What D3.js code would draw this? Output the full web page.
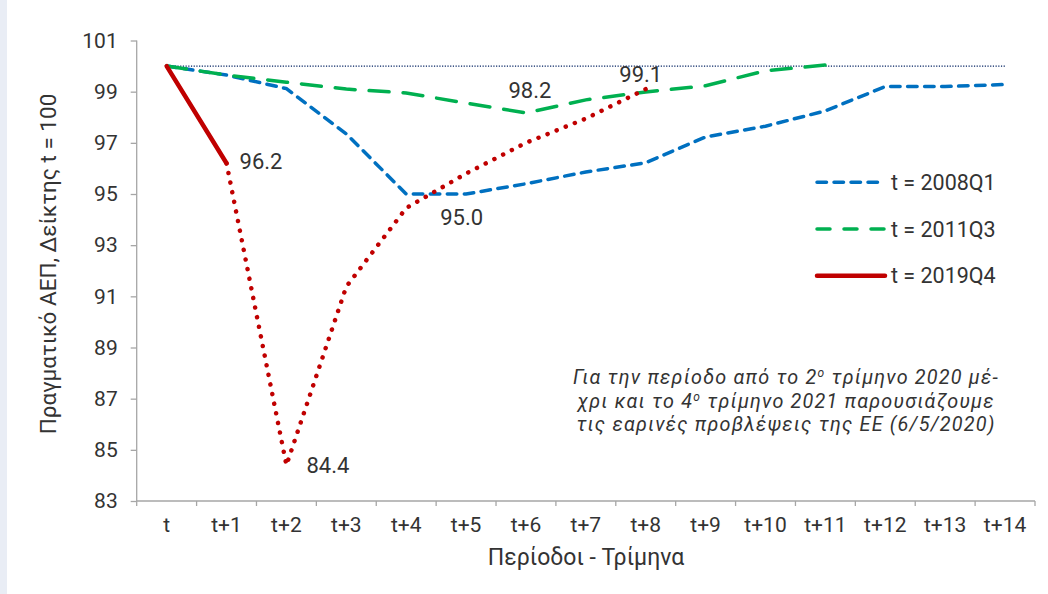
<!DOCTYPE html>
<html><head><meta charset="utf-8">
<script src="https://cdn.jsdelivr.net/npm/d3@7"></script>
<style>
body{margin:0;background:#fff}
svg{display:block}
text{font-family:Roboto,"Noto Sans",sans-serif;fill:#333}
</style>
</head><body>
<svg id="chart" width="1048" height="594"></svg>
<script>
// ---- data ----
const categories = ["t","t+1","t+2","t+3","t+4","t+5","t+6","t+7","t+8","t+9","t+10","t+11","t+12","t+13","t+14"];
const yTicks = [83,85,87,89,91,93,95,97,99,101];
const series2008Q1 = [100, 99.65, 99.12, 97.35, 95.0, 95.0, 95.4, 95.86, 96.22, 97.23, 97.65, 98.25, 99.2, 99.2, 99.28];
const series2011Q3 = [100, 99.65, 99.37, 99.1, 98.95, 98.55, 98.17, 98.68, 98.99, 99.23, 99.82, 100.04];
const series2019Q4Actual = [100, 96.2];
const series2019Q4Forecast = [null, 96.2, 84.4, 91.38, 94.45, 95.8, 97.0, 97.95, 99.1];
const baseline100 = categories.map(() => 100);
const legendNames = ["t = 2008Q1", "t = 2011Q3", "t = 2019Q4"];
const dataLabels = [
  {cat:"t+1", value:96.2, text:"96.2"},
  {cat:"t+2", value:84.4, text:"84.4"},
  {cat:"t+4", value:95.0, text:"95.0"},
  {cat:"t+6", value:98.17, text:"98.2"},
  {cat:"t+8", value:99.1, text:"99.1"}
];
const xTitle = "Περίοδοι - Τρίμηνα";
const yTitle = "Πραγματικό ΑΕΠ, Δείκτης t = 100";
const noteLines = [
  ["Για την περίοδο από το 2", "ο", " τρίμηνο 2020 μέ-"],
  ["χρι και το 4", "ο", " τρίμηνο 2021 παρουσιάζουμε"],
  ["τις εαρινές προβλέψεις της ΕΕ (6/5/2020)", "", ""]
];

// ---- chart ----
(function(){
const svg = d3.select("#chart");
const W = 1048, H = 594;
const pL = 136.7, pR = 1035, pT = 40.5, pB = 501;
const txt = "#333";

svg.append("rect").attr("x",0).attr("y",0).attr("width",7).attr("height",H).attr("fill","#e9edf5");

const x = d3.scaleBand().domain(categories).range([pL, pR]).padding(0);
const xc = c => x(c) + x.bandwidth()/2;
const y = d3.scaleLinear().domain([83,101]).range([pB, pT]);

const axisColor = "#a6a6a6";
const ff = 'Roboto,"Noto Sans",sans-serif';

// y axis
const gy = svg.append("g").attr("transform",`translate(${pL},0)`)
  .call(d3.axisLeft(y).tickValues(yTicks).tickSize(6).tickPadding(13).tickFormat(d3.format("d")));
gy.selectAll("path,line").attr("stroke",axisColor).attr("stroke-width",1.3);
gy.select(".domain").attr("d",`M0,${pT}V${pB}`);
gy.selectAll("text").attr("font-size",21).attr("font-family",ff).attr("fill",txt);

// x axis
const gx = svg.append("g").attr("transform",`translate(0,${pB})`)
  .call(d3.axisBottom(x).tickSize(0).tickPadding(16));
gx.select(".domain").attr("stroke",axisColor).attr("stroke-width",1.3).attr("d",`M${pL},0H${pR}`);
gx.selectAll("text").attr("font-size",21).attr("font-family",ff).attr("fill",txt);
const edges = categories.map(c => x(c)).concat([pR]);
gx.selectAll(".edge").data(edges).enter().append("line")
  .attr("x1",d=>d).attr("x2",d=>d).attr("y1",0).attr("y2",5)
  .attr("stroke",axisColor).attr("stroke-width",1.3);

// titles
svg.append("text").attr("x", 586).attr("y", 565).attr("text-anchor","middle")
  .attr("font-size",23).text(xTitle);
svg.append("text").attr("transform",`translate(56,264) rotate(-90)`).attr("text-anchor","middle")
  .attr("font-size",22.5).text(yTitle);

// lines
const line = d3.line().defined(d => d.v != null).x(d => xc(d.c)).y(d => y(d.v));
const toPts = arr => arr.map((v,i) => ({c:categories[i], v:v}));

svg.append("path").attr("d", line(toPts(baseline100)))
  .attr("fill","none").attr("stroke","#002060").attr("stroke-width",1.1).attr("stroke-dasharray","1.2,1.5");

svg.append("path").attr("d", line(toPts(series2008Q1)))
  .attr("fill","none").attr("stroke","#0070c0").attr("stroke-width",3.5)
  .attr("stroke-linecap","round").attr("stroke-dasharray","9.5,7.5");

svg.append("path").attr("d", line(toPts(series2011Q3)))
  .attr("fill","none").attr("stroke","#00b050").attr("stroke-width",3.5)
  .attr("stroke-linecap","round").attr("stroke-dasharray","20,14");

svg.append("path").attr("d", line(toPts(series2019Q4Forecast)))
  .attr("fill","none").attr("stroke","#c00000").attr("stroke-width",4.5)
  .attr("stroke-linecap","round").attr("stroke-dasharray","0.1,9.7");

svg.append("path").attr("d", line(toPts(series2019Q4Actual)))
  .attr("fill","none").attr("stroke","#c00000").attr("stroke-width",4.5).attr("stroke-linecap","round");

// data labels
const labelOffsets = {"t+1":[13,6,"start"],"t+2":[20,8,"start"],"t+4":[34,31,"start"],"t+6":[4,-15,"middle"],"t+8":[-5,-7,"middle"]};
svg.selectAll(".dl").data(dataLabels).enter().append("text")
  .attr("x", d => xc(d.cat) + labelOffsets[d.cat][0])
  .attr("y", d => y(d.value) + labelOffsets[d.cat][1])
  .attr("text-anchor", d => labelOffsets[d.cat][2])
  .attr("font-size",22).text(d => d.text);

// legend
const legendStyles = [
  {color:"#0070c0", dash:"9.5,7.5", w:3.5},
  {color:"#00b050", dash:"13,14", w:3.5},
  {color:"#c00000", dash:null, w:4.5}
];
legendNames.forEach((name,i) => {
  const ly = 182.3 + i*46.7;
  const s = legendStyles[i];
  const ln = svg.append("line").attr("x1",817).attr("x2",885).attr("y1",ly).attr("y2",ly)
    .attr("stroke",s.color).attr("stroke-width",s.w).attr("stroke-linecap","round");
  if (s.dash) ln.attr("stroke-dasharray", s.dash);
  svg.append("text").attr("x",891).attr("y",ly+7.5).attr("font-size",21.5).text(name);
});

// note
noteLines.forEach((parts,i) => {
  const t = svg.append("text").attr("x",786).attr("y",384 + i*23.5).attr("text-anchor","middle")
    .attr("font-size",19.8).attr("font-style","italic").attr("letter-spacing",1.2);
  t.append("tspan").text(parts[0]);
  if (parts[1]) {
    t.append("tspan").attr("font-size",12).attr("dy",-7).text(parts[1]);
    t.append("tspan").attr("dy",7).text(parts[2]);
  }
});
})();
</script>
</body></html>
